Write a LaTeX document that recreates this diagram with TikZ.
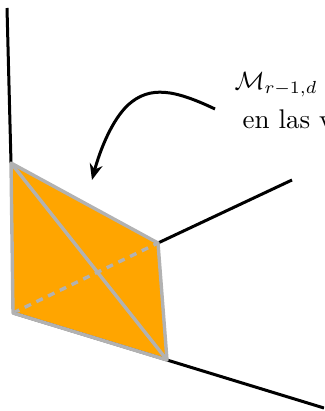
\documentclass[tikz,border=0pt]{standalone}
\usetikzlibrary{arrows.meta}
\definecolor{faceorange}{RGB}{255,165,0}
\definecolor{edgegray}{RGB}{178,178,178}
\tikzset{
  axisline/.style={draw=black,line width=3pt},
  edgeline/.style={draw=edgegray,line width=3.4pt,line join=round},
  hiddenedge/.style={edgeline,dash pattern=on 7pt off 6pt},
  mathlabel/.style={inner sep=0pt,anchor=base west,scale=2.5,transform shape},
  textlabel/.style={inner sep=0pt,anchor=base west,scale=2.7,transform shape}
}
\begin{document}
\begin{tikzpicture}[x=1pt,y=-1pt]
\useasboundingbox (0,0) rectangle (324,411);
\clip (0,0) rectangle (324,411);
\coordinate (a) at (11,163);
\coordinate (b) at (158,243);
\coordinate (c) at (13,313);
\coordinate (d) at (167,360);
\coordinate (top) at (7,8);
\coordinate (right) at (292,180);
\coordinate (low) at (324,408);
\coordinate (from) at (215,109);
\coordinate (to) at (92,180);
\draw[axisline] (top) -- (a);
\draw[axisline] (b) -- (right);
\draw[axisline] (d) -- (low);
\fill[faceorange] (a) -- (b) -- (d) -- (c) -- cycle;
\draw[hiddenedge] (c) -- (b);
\draw[draw=black!70,line width=3pt,yshift=-0.8pt] (c) -- (d);
\draw[edgeline] (a) -- (b) -- (d) -- (c) -- cycle;
\draw[edgeline] (a) -- (d);
\draw[line width=3pt,-{Stealth[length=16pt,width=13pt]}] (from) .. controls (175,90) and (150,85) .. (128,105) .. controls (112,120) and (100,150) .. (to);
\node[mathlabel] (lab1) at (234,90) {$\mathcal{M}_{r-1,d}$};
\node[textlabel] (lab2) at (242,129) {en las v};
\end{tikzpicture}
\end{document}
